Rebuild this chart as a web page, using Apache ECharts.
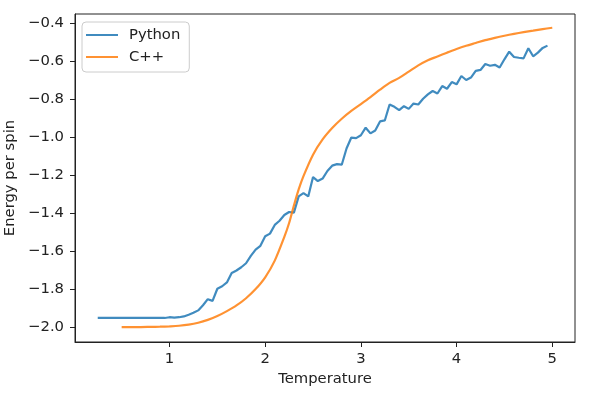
<!DOCTYPE html>
<html>
<head>
<meta charset="utf-8">
<script src="https://cdn.jsdelivr.net/npm/echarts@6/dist/echarts.min.js"></script>
<style>
  html, body { margin: 0; padding: 0; background: #fff; }
  #chart { width: 596px; height: 399px; }
</style>
</head>
<body>
<div id="chart"></div>
<script>
// Python run (Monte Carlo, noisy)
const pyTemps = [
  0.25, 0.5, 0.75, 0.95, 1.0, 1.05, 1.1, 1.15, 1.2, 1.25, 1.3, 1.35, 1.4, 1.45,
  1.5, 1.55, 1.6, 1.65, 1.7, 1.75, 1.8, 1.85, 1.9, 1.95, 2.0, 2.05, 2.1, 2.15,
  2.2, 2.25, 2.3, 2.35, 2.4, 2.45, 2.5, 2.55, 2.6, 2.65, 2.7, 2.75, 2.8, 2.85,
  2.9, 2.95, 3.0, 3.05, 3.1, 3.15, 3.2, 3.25, 3.3, 3.35, 3.4, 3.45, 3.5, 3.55,
  3.6, 3.65, 3.7, 3.75, 3.8, 3.85, 3.9, 3.95, 4.0, 4.05, 4.1, 4.15, 4.2, 4.25,
  4.3, 4.35, 4.4, 4.45, 4.5, 4.55, 4.6, 4.65, 4.7, 4.75, 4.8, 4.85, 4.9, 4.95
];
const pyEnergy = [
  -1.952, -1.952, -1.952, -1.952, -1.948, -1.950, -1.948, -1.944, -1.935, -1.925, -1.912, -1.885, -1.853, -1.862,
  -1.798, -1.785, -1.765, -1.715, -1.702, -1.685, -1.664, -1.625, -1.592, -1.572, -1.522, -1.508, -1.462, -1.440,
  -1.410, -1.394, -1.397, -1.312, -1.295, -1.312, -1.210, -1.231, -1.218, -1.178, -1.150, -1.142, -1.145, -1.060,
  -1.002, -1.005, -0.990, -0.950, -0.980, -0.965, -0.917, -0.912, -0.828, -0.840, -0.858, -0.837, -0.851, -0.823,
  -0.828, -0.798, -0.775, -0.757, -0.770, -0.731, -0.745, -0.710, -0.722, -0.678, -0.699, -0.686, -0.651, -0.646,
  -0.615, -0.624, -0.619, -0.633, -0.590, -0.550, -0.578, -0.582, -0.585, -0.532, -0.574, -0.555, -0.530, -0.518
];

// C++ run (smooth)
const cppTemps = [
  0.5, 0.6, 0.7, 0.8, 0.9, 1.0, 1.1, 1.2, 1.3, 1.4, 1.5, 1.6, 1.7, 1.8, 1.9, 2.0,
  2.1, 2.2, 2.25, 2.3, 2.35, 2.4, 2.5, 2.6, 2.7, 2.8, 2.9, 3.0, 3.1, 3.2, 3.3, 3.4,
  3.5, 3.6, 3.7, 3.8, 3.9, 4.0, 4.1, 4.2, 4.3, 4.4, 4.5, 4.6, 4.7, 4.8, 4.9, 5.0
];
const cppEnergy = [
  -2.000, -2.000, -2.000, -1.999, -1.998, -1.996, -1.993, -1.987, -1.977, -1.962, -1.942, -1.916, -1.886, -1.848, -1.800, -1.738,
  -1.650, -1.525, -1.452, -1.360, -1.275, -1.205, -1.092, -1.012, -0.952, -0.903, -0.862, -0.826, -0.789, -0.750, -0.714, -0.688,
  -0.655, -0.622, -0.595, -0.575, -0.555, -0.536, -0.519, -0.504, -0.489, -0.477, -0.466, -0.456, -0.447, -0.439, -0.431, -0.424
];

const xTicks = [1, 2, 3, 4, 5];
const yTicks = [-2.0, -1.8, -1.6, -1.4, -1.2, -1.0, -0.8, -0.6, -0.4];

const font = 'DejaVu Sans';
const fs = 14.8;
const ink = '#222';

function zip(xs, ys) {
  return xs.map((x, i) => [x, ys[i]]);
}

const chart = echarts.init(document.getElementById('chart'), null, { renderer: 'canvas' });

chart.setOption({
  animation: false,
  textStyle: { fontFamily: font },
  grid: {
    left: 75, right: 21, top: 14, bottom: 57,
    outerBoundsMode: 'none',
    show: true, borderColor: ink, borderWidth: 1, backgroundColor: '#fff'
  },
  legend: {
    orient: 'vertical',
    left: 82, top: 22,
    padding: [5, 9, 7, 4],
    itemGap: 6,
    itemWidth: 32, itemHeight: 2,
    icon: 'rect',
    backgroundColor: 'rgba(255,255,255,0.8)',
    borderColor: '#ccc', borderWidth: 1, borderRadius: 4,
    textStyle: { fontFamily: font, fontSize: fs, color: ink, lineHeight: 16, padding: [0, 0, 0, 6] },
    data: ['Python', 'C++']
  },
  xAxis: {
    type: 'value',
    min: 0.0125, max: 5.2375,
    name: 'Temperature',
    nameLocation: 'middle', nameGap: 30,
    nameTextStyle: { fontFamily: font, fontSize: fs, color: ink },
    splitLine: { show: false },
    axisLine: { show: true, lineStyle: { color: ink, width: 1 } },
    axisTick: { show: true, length: 5, customValues: xTicks, lineStyle: { color: ink } },
    axisLabel: {
      customValues: xTicks, margin: 10,
      fontFamily: font, fontSize: fs, color: ink,
      formatter: v => String(Math.round(v))
    }
  },
  yAxis: {
    type: 'value',
    min: -2.0785, max: -0.3515,
    name: 'Energy per spin',
    nameLocation: 'middle', nameGap: 57, nameRotate: 90,
    nameTextStyle: { fontFamily: font, fontSize: fs, color: ink },
    splitLine: { show: false },
    axisLine: { show: true, lineStyle: { color: ink, width: 1 } },
    axisTick: { show: true, length: 5, customValues: yTicks, lineStyle: { color: ink } },
    axisLabel: {
      customValues: yTicks, margin: 11,
      fontFamily: font, fontSize: fs, color: ink,
      formatter: v => (v < 0 ? '\u2212' : '') + Math.abs(v).toFixed(1)
    }
  },
  series: [
    {
      name: 'Python', type: 'line', symbol: 'none',
      data: zip(pyTemps, pyEnergy),
      itemStyle: { color: '#1f77b4', opacity: 0.85 },
      lineStyle: { color: '#1f77b4', width: 2.2, opacity: 0.85 }
    },
    {
      name: 'C++', type: 'line', symbol: 'none', smooth: 0.3,
      data: zip(cppTemps, cppEnergy),
      itemStyle: { color: '#ff7f0e', opacity: 0.85 },
      lineStyle: { color: '#ff7f0e', width: 2.2, opacity: 0.85 }
    }
  ]
});
</script>
</body>
</html>
